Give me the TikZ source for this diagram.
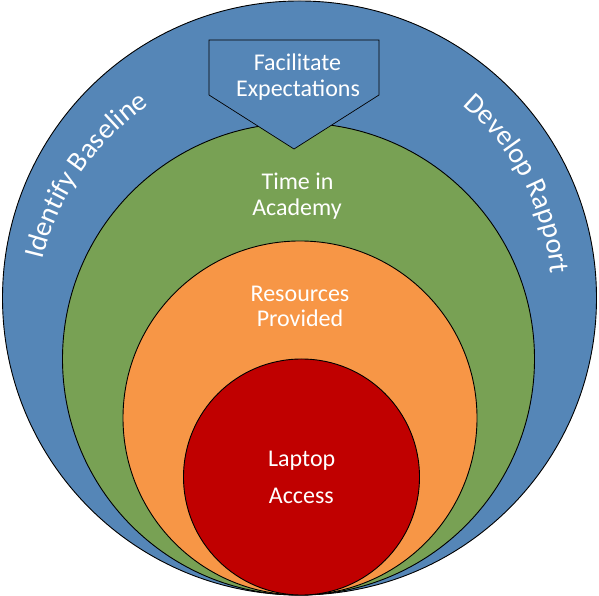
\documentclass[tikz,border=0pt]{standalone}
\usepackage{fontspec}
\setmainfont{Carlito}
\usetikzlibrary{decorations.text}
\definecolor{ringblue}{HTML}{5586B7}
\definecolor{ringgreen}{HTML}{78A154}
\definecolor{ringorange}{HTML}{F79646}
\definecolor{ringred}{HTML}{C00000}
\newcommand\myarcfont{\fontsize{28.5}{30}\selectfont}
\begin{document}
\begin{tikzpicture}[x=1pt,y=1pt,
  ring/.style={draw=black, line width=0.9pt},
  lbl/.style={text=white, font=\fontsize{24}{26}\selectfont, anchor=base, inner sep=0pt},
  arctext/.style={decorate, decoration={text along path, text align=center, text color=white}}
]
\useasboundingbox (0,0) rectangle (599,596);
\fill[white] (0,0) rectangle (599,596);
\filldraw[ring, fill=ringblue] (299.5,298) circle[radius=297];
\filldraw[ring, fill=ringgreen] (298.5,237) circle[radius=236];
\filldraw[ring, fill=ringorange] (300,178) circle[radius=177];
\filldraw[ring, fill=ringred] (301.5,119) circle[radius=118];
\filldraw[ring, line width=0.7pt, fill=ringblue] (209,556) -- (379,556) -- (379,501) -- (294,447) -- (209,501) -- cycle;
\node[lbl] (fac1) at (297.5,525.3) {Facilitate};
\node[lbl] (fac2) at (298,499.3) {Expectations};
\node[lbl] (tim1) at (297.5,406.7) {Time in};
\node[lbl] (tim2) at (297,380) {Academy};
\node[lbl] (res1) at (300,294.5) {Resources};
\node[lbl] (res2) at (300,269.5) {Provided};
\node[lbl] (lap1) at (301.7,129.3) {Laptop};
\node[lbl] (lap2) at (301.3,92.7) {Access};
\path[arctext, decoration={text={|\myarcfont|Identify Baseline}}] (295,276) ++(185.4:259.5) arc[start angle=185.4, end angle=105.4, radius=259.5];
\path[arctext, decoration={text={|\myarcfont|Develop Rapport}}] (299.5,298) ++(67.6:252.5) arc[start angle=67.6, end angle=-12.4, radius=252.5];
\end{tikzpicture}
\end{document}
